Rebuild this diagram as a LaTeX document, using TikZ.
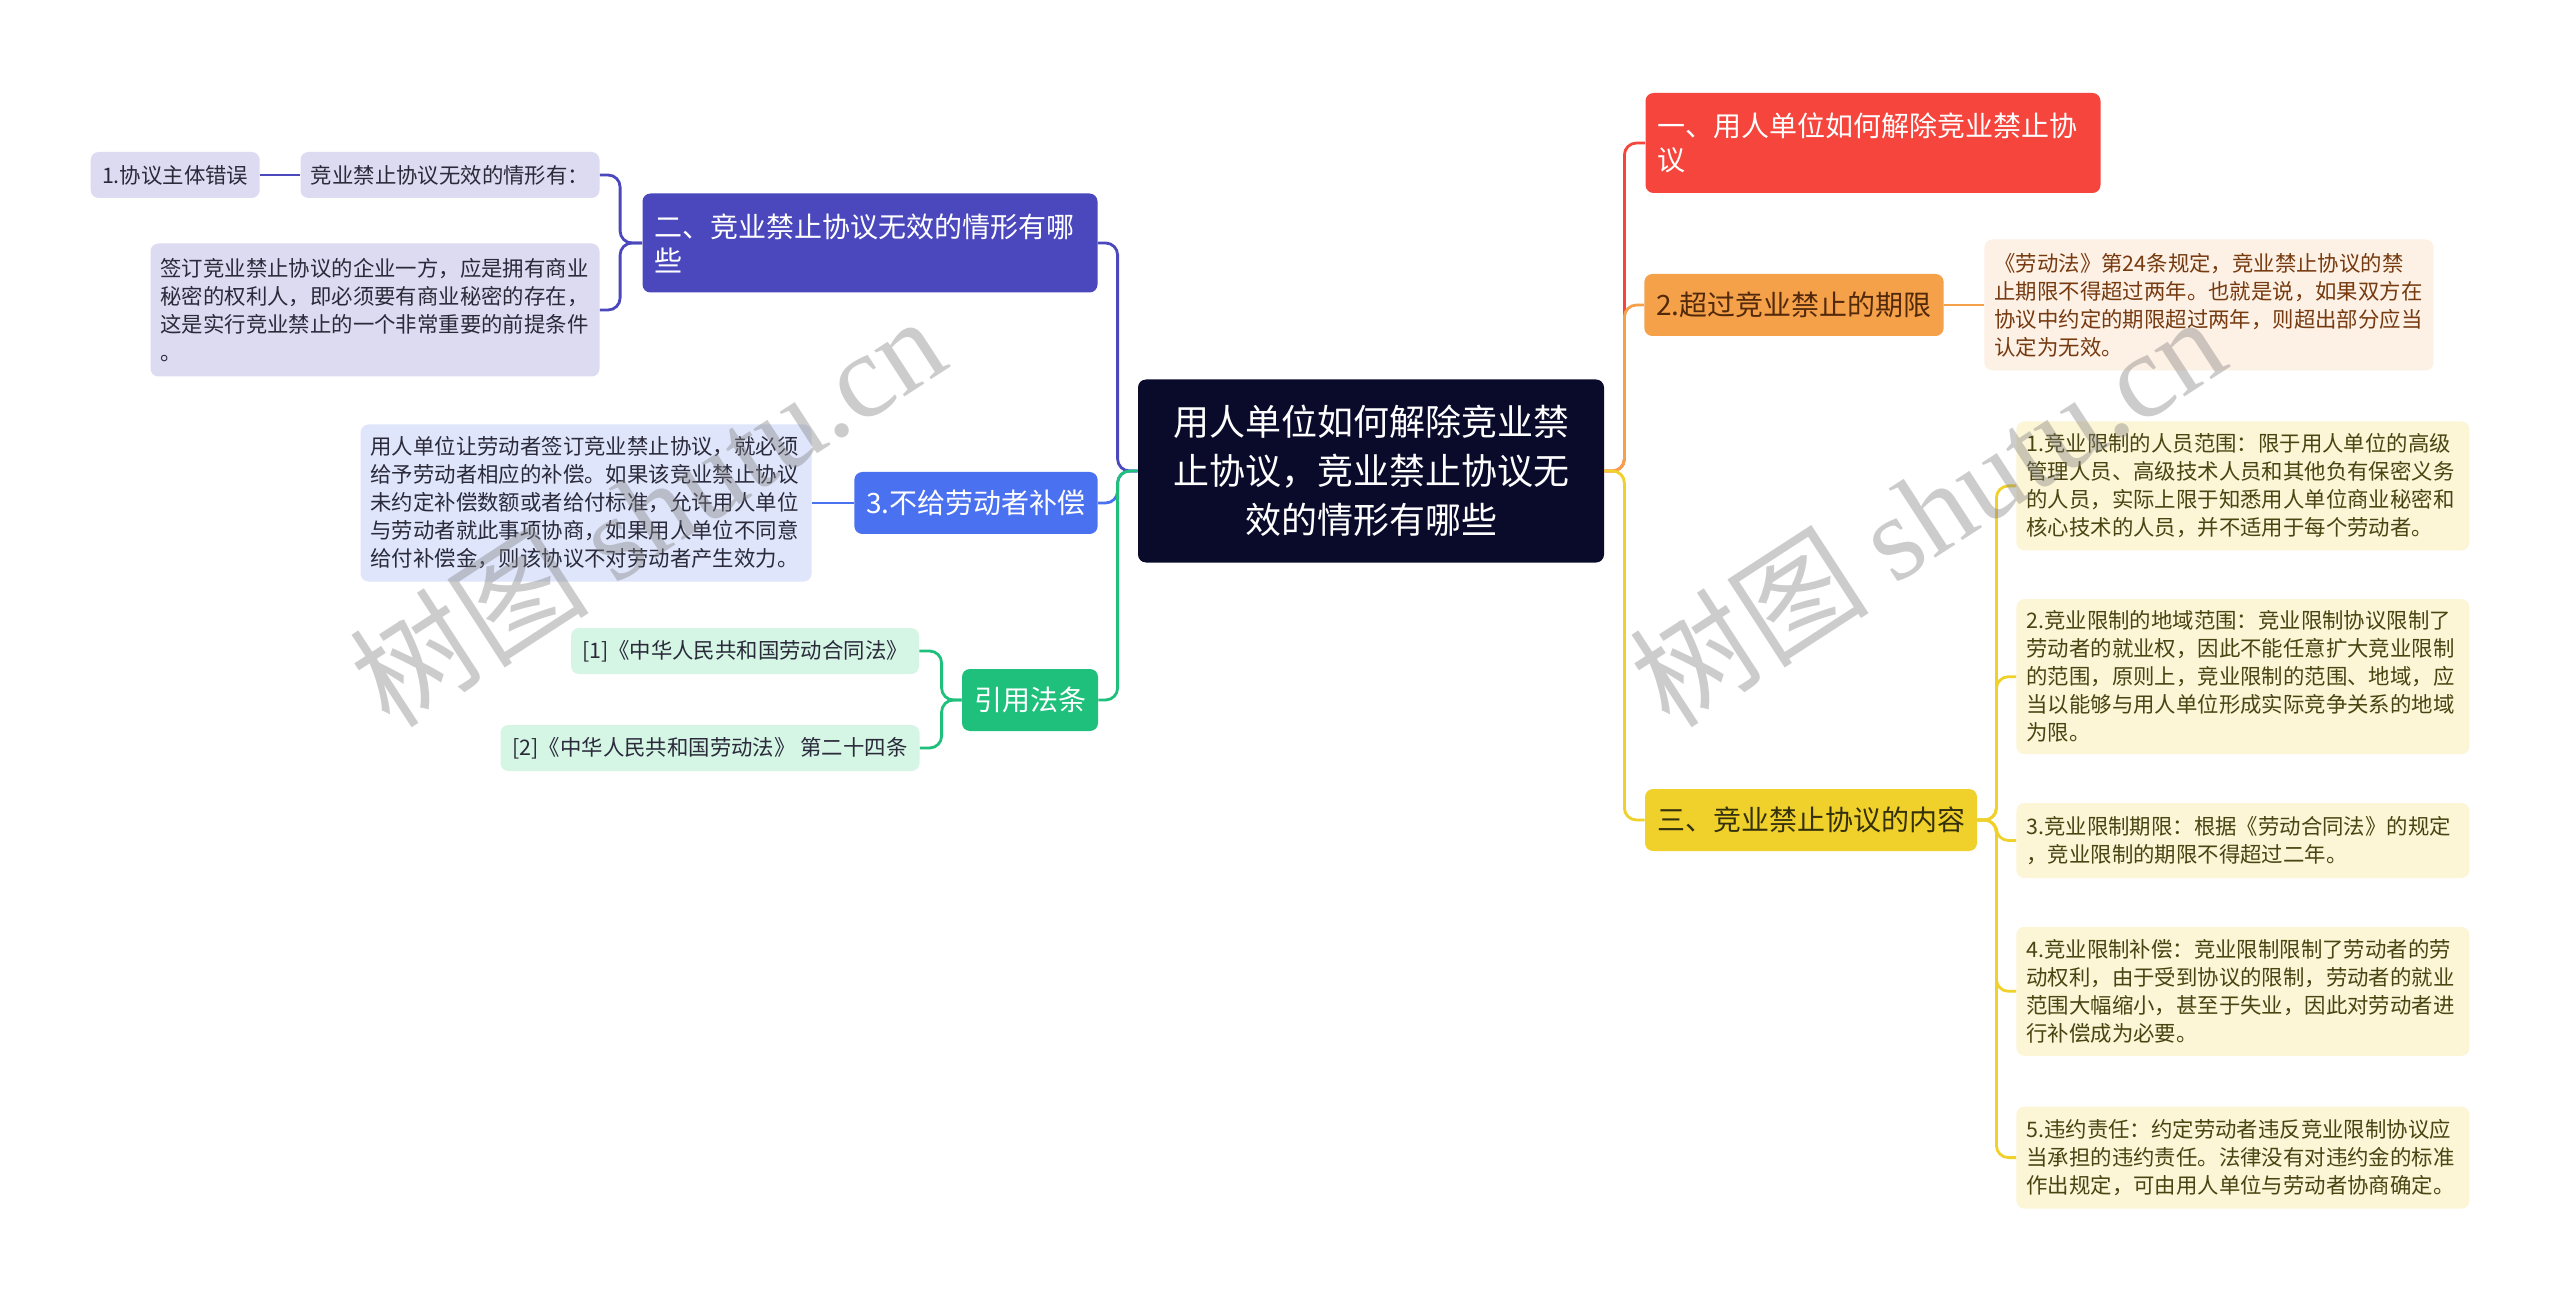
\documentclass[tikz,border=0pt]{standalone}
\usepackage{fontspec}
\setmainfont{Noto Sans CJK SC}
\newfontfamily\wmfont{Liberation Serif}
\usetikzlibrary{positioning}

\definecolor{rootbg}{HTML}{0A0B2B}
\definecolor{redc}{HTML}{F5453C}
\definecolor{orangec}{HTML}{F5A14A}
\definecolor{orangeleaf}{HTML}{FDF0E4}
\definecolor{orangetext}{HTML}{763A10}
\definecolor{yellowc}{HTML}{F0D12C}
\definecolor{yellowleaf}{HTML}{FCF5D6}
\definecolor{yellowtext}{HTML}{4A4412}
\definecolor{purplec}{HTML}{4B48BD}
\definecolor{purpleleaf}{HTML}{DDDBF1}
\definecolor{bluec}{HTML}{4A71F0}
\definecolor{blueleaf}{HTML}{DFE5FB}
\definecolor{greenc}{HTML}{1FC07C}
\definecolor{greenleaf}{HTML}{D5F5E5}
\definecolor{darktext}{HTML}{2A2A3A}

\begin{document}
\begin{tikzpicture}[x=0.5pt,y=-0.5pt,node distance=20pt,
  box/.style={rounded corners=4pt,inner xsep=6pt,inner ysep=0pt},
  main/.style={box,font=\fontsize{14}{17}\selectfont,text=white,align=left},
  leaf/.style={box,font=\fontsize{10.7}{14}\selectfont,align=left,inner xsep=5pt,text=darktext},
  link/.style={line width=1.4pt,rounded corners=6pt},
  wmark/.style={text=gray,opacity=0.4,font=\fontsize{60}{60}\selectfont,rotate=33}]
   \useasboundingbox[fill=white] (0,0) rectangle (2560,1299);

   \node[box,fill=rootbg,text=white,align=center,font=\fontsize{18}{24.5}\selectfont,
         text width=221pt,minimum height=91.5pt] (root) at (1371,471)
         {用人单位如何解除竞业禁\\止协议，竞业禁止协议无\\效的情形有哪些};

   % right side
   \node[main,fill=redc,text width=215.5pt,minimum height=50pt] (one) at (1873,143)
         {一、用人单位如何解除竞业禁止协\\议};
   \node[main,fill=orangec,text=orangetext!70!black,minimum width=148.5pt,minimum height=31pt] (limit) at (1794,305)
         {2.超过竞业禁止的期限};
   \node[leaf,fill=orangeleaf,text=orangetext,text width=214.5pt,minimum height=65.5pt] (limitnote) [right=20pt of limit]
         {《劳动法》第24条规定，竞业禁止协议的禁\\止期限不得超过两年。也就是说，如果双方在\\协议中约定的期限超过两年，则超出部分应当\\认定为无效。};
   \node[main,fill=yellowc,text=yellowtext!70!black,minimum width=165pt,minimum height=31pt] (three) at (1811,820)
         {三、竞业禁止协议的内容};
   \begin{scope}[every node/.append style={leaf,fill=yellowleaf,text=yellowtext,text width=216.5pt}]
   \node[minimum height=64.5pt,anchor=north west] (item1) at (2016,421)
         {1.竞业限制的人员范围：限于用人单位的高级\\管理人员、高级技术人员和其他负有保密义务\\的人员，实际上限于知悉用人单位商业秘密和\\核心技术的人员，并不适用于每个劳动者。};
   \node[minimum height=77.5pt] (item2) [below=24pt of item1]
         {2.竞业限制的地域范围：竞业限制协议限制了\\劳动者的就业权，因此不能任意扩大竞业限制\\的范围，原则上，竞业限制的范围、地域，应\\当以能够与用人单位形成实际竞争关系的地域\\为限。};
   \node[minimum height=37.5pt] (item3) [below=24pt of item2]
         {3.竞业限制期限：根据《劳动合同法》的规定\\，竞业限制的期限不得超过二年。};
   \node[minimum height=64.5pt] (item4) [below=24pt of item3]
         {4.竞业限制补偿：竞业限制限制了劳动者的劳\\动权利，由于受到协议的限制，劳动者的就业\\范围大幅缩小，甚至于失业，因此对劳动者进\\行补偿成为必要。};
   \node[minimum height=51pt] (item5) [below=25pt of item4]
         {5.违约责任：约定劳动者违反竞业限制协议应\\当承担的违约责任。法律没有对违约金的标准\\作出规定，可由用人单位与劳动者协商确定。};
   \end{scope}

   % left side
   \node[main,fill=purplec,text width=215.5pt,minimum height=49.5pt] (two) at (870,243)
         {二、竞业禁止协议无效的情形有哪\\些};
   \node[leaf,fill=purpleleaf,minimum width=149.5pt,minimum height=23pt] (invalid) at (450,175)
         {竞业禁止协议无效的情形有：};
   \node[leaf,fill=purpleleaf,minimum width=84.5pt,minimum height=23pt] (subject) [left=20pt of invalid]
         {1.协议主体错误};
   \node[leaf,fill=purpleleaf,text width=214.5pt,minimum height=66.5pt] (sign) at (375,310)
         {签订竞业禁止协议的企业一方，应是拥有商业\\秘密的权利人，即必须要有商业秘密的存在，\\这是实行竞业禁止的一个非常重要的前提条件\\。};
   \node[main,fill=bluec,minimum width=121pt,minimum height=31pt] (pay) at (976,503)
         {3.不给劳动者补偿};
   \node[leaf,fill=blueleaf,text width=215.5pt,minimum height=78.5pt] (paynote) [left=21pt of pay]
         {用人单位让劳动者签订竞业禁止协议，就必须\\给予劳动者相应的补偿。如果该竞业禁止协议\\未约定补偿数额或者给付标准，允许用人单位\\与劳动者就此事项协商，如果用人单位不同意\\给付补偿金，则该协议不对劳动者产生效力。};
   \node[main,fill=greenc,minimum width=67.5pt,minimum height=31pt] (law) at (1030,700)
         {引用法条};
   \node[leaf,fill=greenleaf,minimum width=174pt,minimum height=23pt] (law1) at (745,651)
         {[1]《中华人民共和国劳动合同法》};
   \node[leaf,fill=greenleaf,minimum width=209.5pt,minimum height=23pt] (law2) at (710,748)
         {[2]《中华人民共和国劳动法》 第二十四条};

   % connectors
   \draw[link,redc] (root.east) -- ++(20,0) |- (one.west);
   \draw[link,orangec] (root.east) -- ++(20,0) |- (limit.west);
   \draw[link,yellowc] (root.east) -- ++(20,0) |- (three.west);
   \draw[link,orangec] (limit.east) -- (limitnote.west);
   \foreach \i in {1,...,5}
     \draw[link,yellowc] (three.east) -- ++(19,0) |- (item\i.west);
   \draw[link,purplec] (root.west) -- ++(-20,0) |- (two.east);
   \draw[link,bluec] (root.west) -- ++(-20,0) |- (pay.east);
   \draw[link,greenc] (root.west) -- ++(-20,0) |- (law.east);
   \draw[link,purplec] (two.west) -- ++(-22,0) |- (invalid.east);
   \draw[link,purplec] (two.west) -- ++(-22,0) |- (sign.east);
   \draw[link,purplec] (invalid.west) -- (subject.east);
   \draw[link,bluec] (pay.west) -- (paynote.east);
   \draw[link,greenc] (law.west) -- ++(-20,0) |- (law1.east);
   \draw[link,greenc] (law.west) -- ++(-20,0) |- (law2.east);

   \node[wmark] (mark1) at (647,510) {树图 {\wmfont shutu.cn}};
   \node[wmark] (mark2) at (1927,510) {树图 {\wmfont shutu.cn}};
\end{tikzpicture}
\end{document}
